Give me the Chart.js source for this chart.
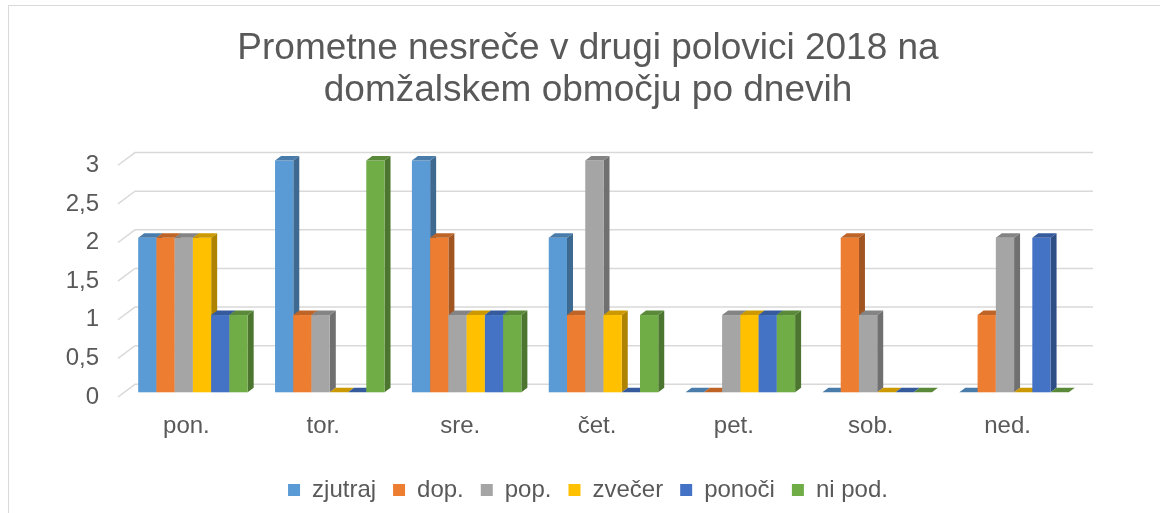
<!DOCTYPE html>
<html>
<head>
<meta charset="utf-8">
<title>Prometne nesreče</title>
<script src="https://cdn.jsdelivr.net/npm/chart.js"></script>
<style>
    html, body { margin: 0; padding: 0; background: #fff; overflow: hidden; }
    #frame { position: absolute; left: 8px; top: 5px; width: 1400px; height: 800px; border: 1px solid #d9d9d9; }
    #main { position: absolute; left: 8px; top: 0; width: 1160px; height: 513px; }
</style>
</head>
<body>
<div id="frame"></div>
<div id="main"><canvas id="myChart"></canvas></div>
<script>
    // data
    var days = ['pon.', 'tor.', 'sre.', 'čet.', 'pet.', 'sob.', 'ned.'];
    var zjutraj = [2, 3, 3, 2, 0, 0, 0];
    var dop = [2, 1, 2, 1, 0, 2, 1];
    var pop = [2, 1, 1, 3, 1, 1, 2];
    var zvecer = [2, 0, 1, 1, 1, 0, 0];
    var ponoci = [1, 0, 1, 0, 1, 0, 2];
    var niPod = [1, 3, 1, 1, 1, 0, 0];
    var yTicks = ['0', '0,5', '1', '1,5', '2', '2,5', '3'];

    var textColor = '#595959';
    var fontFamily = '"Liberation Sans", Arial, sans-serif';

    // fake 3d: offset of bar front from the floor front, bar depth, wall depth
    var ox = 6.5, oy = -4.7, bdx = 6, bdy = 4.5;
    var wdx = 17, wdy = 12.7;

    function shade(hex, f) {
        var r = parseInt(hex.substr(1, 2), 16), g = parseInt(hex.substr(3, 2), 16), b = parseInt(hex.substr(5, 2), 16);
        return 'rgb(' + Math.round(r * f) + ',' + Math.round(g * f) + ',' + Math.round(b * f) + ')';
    }

    function poly(ctx, color, pts) {
        ctx.fillStyle = color;
        ctx.beginPath();
        ctx.moveTo(pts[0][0], pts[0][1]);
        for (var k = 1; k < pts.length; k++) ctx.lineTo(pts[k][0], pts[k][1]);
        ctx.closePath();
        ctx.fill();
    }

    var bars3d = {
        id: 'bars3d',
        beforeDatasetsDraw: function (chart) {
            var ctx = chart.ctx, area = chart.chartArea, ys = chart.scales.y;
            ctx.save();
            // grid on the side and back wall
            ctx.strokeStyle = '#d9d9d9';
            ctx.lineWidth = 1.5;
            ys.ticks.forEach(function (t) {
                var py = ys.getPixelForValue(t.value);
                ctx.beginPath();
                ctx.moveTo(area.left, py);
                ctx.lineTo(area.left + wdx, py - wdy);
                ctx.lineTo(area.right + wdx, py - wdy);
                ctx.stroke();
            });
            // bars, left to right so the next front face covers the previous side
            for (var j = 0; j < chart.data.labels.length; j++) {
                chart.data.datasets.forEach(function (ds, i) {
                    var bar = chart.getDatasetMeta(i).data[j];
                    var x0 = bar.x - bar.width / 2 + ox, x1 = bar.x + bar.width / 2 + ox;
                    var top = bar.y + oy, bot = bar.base + oy;
                    var c = ds.backgroundColor;
                    if (bot - top > 0.5) {
                        poly(ctx, shade(c, 0.68), [[x1, top], [x1 + bdx, top - bdy], [x1 + bdx, bot - bdy], [x1, bot]]);
                        ctx.fillStyle = c;
                        ctx.fillRect(x0, top, x1 - x0, bot - top);
                    }
                    poly(ctx, shade(c, 0.8), [[x0, top], [x1, top], [x1 + bdx, top - bdy], [x0 + bdx, top - bdy]]);
                });
            }
            ctx.restore();
            return false;
        }
    };

    function series(label, values, color) {
        return {
            label: label,
            data: values,
            backgroundColor: color,
            borderWidth: 0,
            categoryPercentage: 0.8,
            barPercentage: 1.0
        };
    }

    var ctx = document.getElementById('myChart').getContext('2d');
    var chart = new Chart(ctx, {
        type: 'bar',
        data: {
            labels: days,
            datasets: [
                series('zjutraj', zjutraj, '#5B9BD5'),
                series('dop.', dop, '#ED7D31'),
                series('pop.', pop, '#A5A5A5'),
                series('zvečer', zvecer, '#FFC000'),
                series('ponoči', ponoci, '#4472C4'),
                series('ni pod.', niPod, '#70AD47')
            ]
        },
        plugins: [bars3d],
        options: {
            responsive: true,
            maintainAspectRatio: false,
            animation: false,
            events: [],
            layout: { padding: { left: 0, right: 0, top: 0, bottom: 1 } },
            scales: {
                x: {
                    grid: { display: false, drawTicks: false },
                    border: { display: false },
                    ticks: { color: textColor, font: { family: fontFamily, size: 24 }, padding: 15 },
                    afterFit: function (s) { s.height = 64; }
                },
                y: {
                    min: 0,
                    max: 3,
                    grid: { display: false, drawTicks: false },
                    border: { display: false },
                    ticks: {
                        stepSize: 0.5,
                        color: textColor,
                        font: { family: fontFamily, size: 24 },
                        padding: 19,
                        callback: function (v, i) { return yTicks[i]; }
                    },
                    afterFit: function (s) { s.width = 110; }
                },
                spacer: {
                    position: 'right',
                    grid: { display: false, drawTicks: false },
                    border: { display: false },
                    ticks: { display: false },
                    afterFit: function (s) { s.width = 92; }
                }
            },
            plugins: {
                title: {
                    display: true,
                    text: ['Prometne nesreče v drugi polovici 2018 na', 'domžalskem območju po dnevih'],
                    color: textColor,
                    font: { family: fontFamily, size: 37, weight: 'normal', lineHeight: 1.125 },
                    padding: { top: 28, bottom: 54 }
                },
                legend: {
                    position: 'bottom',
                    labels: {
                        boxWidth: 12,
                        boxHeight: 12,
                        padding: 17,
                        color: textColor,
                        font: { family: fontFamily, size: 24 }
                    }
                },
                tooltip: { enabled: false }
            }
        }
    });
</script>
</body>
</html>
